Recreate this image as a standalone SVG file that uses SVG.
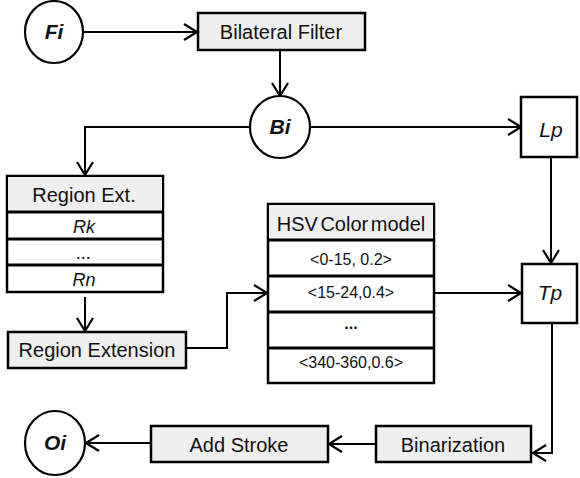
<svg xmlns="http://www.w3.org/2000/svg" width="580" height="478" viewBox="0 0 580 478">
<defs>
<marker id="arr" markerUnits="userSpaceOnUse" markerWidth="20" markerHeight="20" viewBox="-16 -10 20 20" refX="0" refY="0" orient="auto" overflow="visible">
<path d="M-13,-8 L0,0 L-13,8" fill="none" stroke="#000" stroke-width="2.2" stroke-linejoin="miter"/>
</marker>
<style>
.box{fill:#efefef;stroke:#000;stroke-width:2.5}
.wbox{fill:#fff;stroke:#000;stroke-width:2.5}
.sep{stroke:#000;stroke-width:3}
.circ{fill:#fff;stroke:#000;stroke-width:2.2}
.t{font-family:"Liberation Sans",Arial,sans-serif;font-size:20px;fill:#111;text-anchor:middle}
.s{font-family:"Liberation Sans",Arial,sans-serif;font-size:16px;fill:#111;text-anchor:middle}
.it{font-family:"Liberation Sans",Arial,sans-serif;font-size:21px;font-style:italic;fill:#111;text-anchor:middle}
.ri{font-family:"Liberation Sans",Arial,sans-serif;font-size:18px;font-style:italic;fill:#111;text-anchor:middle}
.bi{font-family:"Liberation Sans",Arial,sans-serif;font-size:21px;font-style:italic;font-weight:bold;fill:#111;text-anchor:middle}
.c{fill:none;stroke:#000;stroke-width:2;marker-end:url(#arr)}
</style>
</defs>
<rect width="580" height="478" fill="#fff"/>
<g id="connectors">
<path class="c" d="M84,32 H197"/>
<path class="c" d="M280,50 V96"/>
<path class="c" d="M310,127 H521"/>
<path class="c" d="M250,127 H85 V175"/>
<path class="c" d="M551,157 V263"/>
<path class="c" d="M85,297 V331"/>
<path class="c" d="M186,348 H227 V293 H267"/>
<path class="c" d="M434,293 H521"/>
<path class="c" d="M552,323 V453 H533"/>
<path class="c" d="M376,444 H329"/>
<path class="c" d="M151,443 H86"/>
</g>
<g id="Fi">
<ellipse class="circ" cx="54" cy="32" rx="29" ry="31"/>
<text class="bi" x="54" y="39">Fi</text>
</g>
<g id="bilateral">
<rect class="box" x="198" y="13" width="167" height="37"/>
<text class="t" x="281" y="39">Bilateral Filter</text>
</g>
<g id="Bi">
<ellipse class="circ" cx="280" cy="127" rx="30" ry="31"/>
<text class="bi" x="280" y="134">Bi</text>
</g>
<g id="Lp">
<rect class="wbox" x="521" y="97" width="56" height="60"/>
<text class="it" x="551" y="137">Lp</text>
</g>
<g id="Tp">
<rect class="wbox" x="522" y="264" width="55" height="59"/>
<text class="it" x="550" y="300">Tp</text>
</g>
<g id="region-ext">
<rect class="wbox" x="7" y="176" width="156" height="116"/>
<rect x="8" y="177" width="154" height="35" fill="#efefef"/>
<line class="sep" x1="7" y1="212" x2="163" y2="212"/>
<line class="sep" x1="7" y1="239" x2="163" y2="239"/>
<line class="sep" x1="7" y1="265" x2="163" y2="265"/>
<text class="t" x="84" y="202">Region Ext.</text>
<text class="ri" x="84" y="233">Rk</text>
<text class="ri" x="84" y="259">...</text>
<text class="ri" x="84" y="286">Rn</text>
</g>
<g id="region-extension">
<rect class="box" x="8" y="332" width="178" height="36"/>
<text class="t" x="97" y="357">Region Extension</text>
</g>
<g id="hsv">
<rect class="wbox" x="268" y="204" width="166" height="179"/>
<rect x="269" y="205" width="164" height="35" fill="#efefef"/>
<line class="sep" x1="268" y1="240" x2="434" y2="240"/>
<line class="sep" x1="268" y1="276" x2="434" y2="276"/>
<line class="sep" x1="268" y1="312" x2="434" y2="312"/>
<line class="sep" x1="268" y1="348" x2="434" y2="348"/>
<text class="t" x="351" y="231" font-size="18" word-spacing="-3">HSV Color model</text>
<text class="s" x="351" y="265">&lt;0-15, 0.2&gt;</text>
<text class="s" x="351" y="298">&lt;15-24,0.4&gt;</text>
<text class="s" x="351" y="329" font-weight="bold">...</text>
<text class="s" x="351" y="368">&lt;340-360,0.6&gt;</text>
</g>
<g id="binarization">
<rect class="box" x="376" y="426" width="155" height="36"/>
<text class="t" x="453" y="452">Binarization</text>
</g>
<g id="add-stroke">
<rect class="box" x="151" y="426" width="177" height="36"/>
<text class="t" x="239" y="452">Add Stroke</text>
</g>
<g id="Oi">
<ellipse class="circ" cx="55" cy="443" rx="30" ry="32"/>
<text class="bi" x="55" y="450">Oi</text>
</g>
</svg>
